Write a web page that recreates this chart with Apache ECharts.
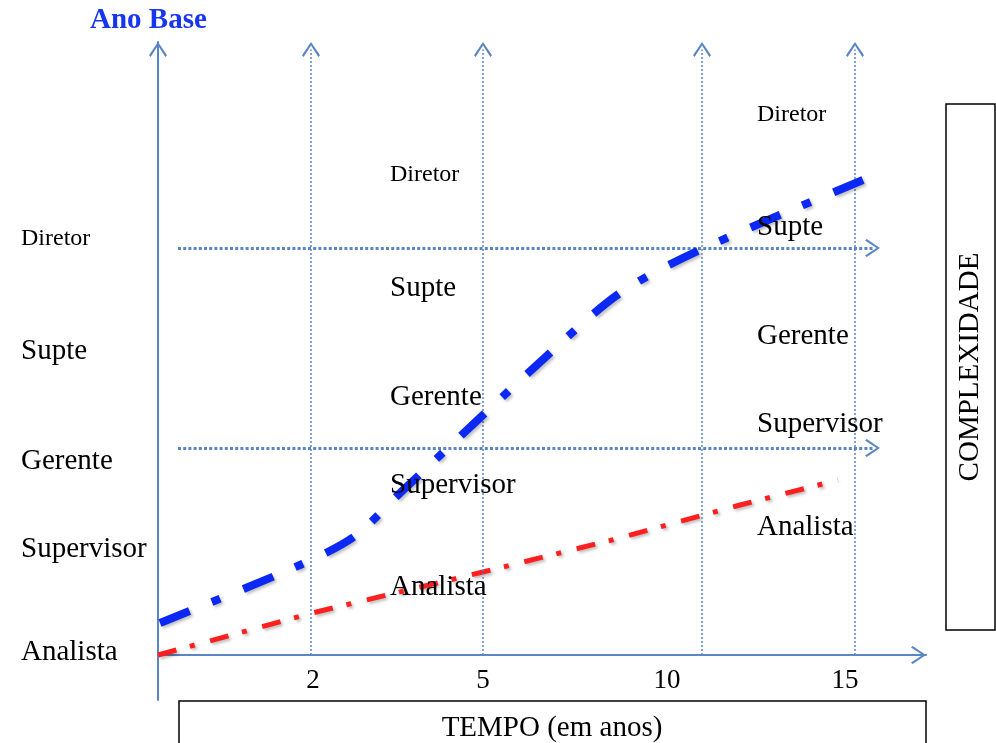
<!DOCTYPE html>
<html><head><meta charset="utf-8">
<script src="https://cdn.jsdelivr.net/npm/echarts@6/dist/echarts.min.js"></script>
<style>html,body{margin:0;padding:0;background:#fff}#c{width:996px;height:743px}</style>
</head><body><div id="c"></div>
<script>
// ---- data (axis units) ----
const timeTickLabels = ['2', '5', '10', '15'];
const timeTickLabelAt = [155, 325, 509, 687];
const timeGridAt = [153, 325, 544, 697];
const levelGridAt = [207, 407];
const levelGridFrom = 20, levelGridTo = 722;
const roles = ['Analista', 'Supervisor', 'Gerente', 'Supte', 'Diretor'];
const colAnoBase = [3, 106, 194, 304, 416];
const colAno5 = [68, 170, 258, 367, 480];
const colAno15 = [128, 231, 319, 428, 540];
const columnX = [-137, 232, 599];
const blueX = [2, 142, 197, 242, 392, 462, 542, 705];
const blueY = [32, 90, 119, 162, 302, 362, 405, 475];
const redX = [0, 154, 325, 454, 582, 680];
const redY = [0, 42, 83, 115, 150, 175];

const SERIF = "'Liberation Serif','Times New Roman',serif";
const AXIS = '#5b86c4';
const CHEV = 'path://M9,0 L18,13.3 L16.4,15 L9,3.4 L1.6,15 L0,13.3 Z';
const HALF = 7.5; // half arrow length, so the chevron tip lands on the line end

const chart = echarts.init(document.getElementById('c'), null, {renderer: 'canvas'});

const labelData = [];
[colAnoBase, colAno5, colAno15].forEach((col, ci) => {
  col.forEach((y, i) => {
    labelData.push({
      value: [columnX[ci], y], name: roles[i],
      itemStyle: {color: '#000', opacity: 1},
      label: {show: true, fontSize: roles[i] === 'Diretor' ? 24 : 29, color: '#000', opacity: 1}
    });
  });
});

const vLines = timeGridAt.map(x => [{coord: [x, 0]}, {coord: [x, 613 - HALF]}]);
const hLines = levelGridAt.map(y => [{coord: [levelGridFrom, y]}, {coord: [levelGridTo - HALF, y]}]);

chart.setOption({
  animation: false,
  backgroundColor: '#fff',
  textStyle: {color: '#000'},
  grid: {left: 158, right: 70, top: 42, bottom: 43},
  xAxis: {
    type: 'value', min: 0, max: 768,
    axisLine: {show: true, onZero: true, symbol: ['none', CHEV], symbolSize: [18, 15], symbolOffset: [0, -HALF],
      lineStyle: {color: AXIS, width: 2}},
    axisTick: {show: false},
    splitLine: {show: false},
    axisLabel: {
      show: true, customValues: timeTickLabelAt, margin: -33,
      formatter: v => timeTickLabels[timeTickLabelAt.indexOf(v)],
      fontFamily: SERIF, fontSize: 27, color: '#000'
    }
  },
  yAxis: {
    type: 'value', min: -45, max: 613,
    axisLine: {show: true, onZero: true, symbol: ['none', CHEV], symbolSize: [18, 15], symbolOffset: [0, -HALF],
      lineStyle: {color: AXIS, width: 2}},
    axisTick: {show: false}, splitLine: {show: false}, axisLabel: {show: false}
  },
  graphic: [
    {type: 'text', left: 90, top: 6, style: {text: 'Ano Base', font: "bold 29px " + SERIF, fill: '#1636f0'}},
    {type: 'rect', shape: {x: 946, y: 104, width: 49, height: 526}, style: {fill: '#fff', stroke: '#000', lineWidth: 1.5}},
    {type: 'text', x: 970, y: 367, rotation: Math.PI / 2,
      style: {text: 'COMPLEXIDADE', font: "29px " + SERIF, fill: '#000', align: 'center', verticalAlign: 'middle'}},
    {type: 'rect', shape: {x: 179, y: 701, width: 747, height: 70}, style: {fill: '#fff', stroke: '#000', lineWidth: 1.5}},
    {type: 'text', x: 552, y: 728,
      style: {text: 'TEMPO (em anos)', font: "29px " + SERIF, fill: '#000', align: 'center', verticalAlign: 'middle'}}
  ],
  series: [
    {
      type: 'line', name: 'grid', data: [], silent: true,
      markLine: {
        silent: true, symbol: ['none', CHEV], symbolSize: [18, 15],
        label: {show: false},
        data: vLines,
        lineStyle: {color: AXIS, width: 1.5, type: [2, 2]}
      }
    },
    {
      type: 'line', name: 'levels', data: [], silent: true,
      markLine: {
        silent: true, symbol: ['none', CHEV], symbolSize: [18, 15],
        label: {show: false},
        data: hLines,
        lineStyle: {color: AXIS, width: 3, type: [3, 2.2]}
      }
    },
    {
      type: 'line', name: 'red', z: 4,
      data: redX.map((x, i) => [x, redY[i]]),
      showSymbol: false, symbol: 'none',
      lineStyle: {color: '#fe1f1f', width: 5, type: [19, 14, 5, 16], cap: 'butt',
        shadowColor: 'rgba(0,0,0,0.25)', shadowBlur: 3, shadowOffsetX: 2, shadowOffsetY: 2}
    },
    {
      type: 'line', name: 'blue', z: 5, smooth: 0.3,
      data: blueX.map((x, i) => [x, blueY[i]]),
      showSymbol: false, symbol: 'none',
      lineStyle: {color: '#0b28f4', width: 8, type: [32, 24, 9, 25], cap: 'butt',
        shadowColor: 'rgba(0,0,0,0.25)', shadowBlur: 3, shadowOffsetX: 2, shadowOffsetY: 2}
    },
    {
      type: 'scatter', name: 'cargos', z: 6, clip: false, silent: true,
      symbolSize: 0, data: labelData,
      emphasis: {disabled: true},
      label: {show: true, position: 'right', distance: 0, formatter: p => p.name,
        fontFamily: SERIF, color: '#000', textBorderWidth: 0, verticalAlign: 'middle'}
    }
  ]
});
</script></body></html>
